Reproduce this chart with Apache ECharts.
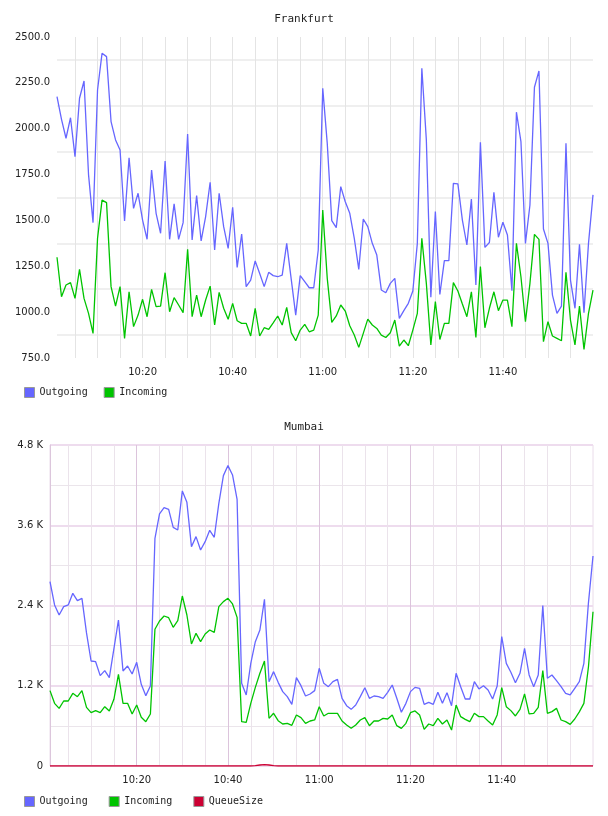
<!DOCTYPE html>
<html>
<head>
<meta charset="utf-8">
<title>Frankfurt / Mumbai</title>
<script src="https://cdn.jsdelivr.net/npm/echarts@6/dist/echarts.min.js"></script>
<style>
  html, body { margin: 0; padding: 0; background: #fff; }
  #chart { width: 608px; height: 816px; }
</style>
</head>
<body>
<div id="chart"></div>
<script>
// one sample per minute, 10:01 .. 12:00
var times = [];
for (var m = 601; m <= 720; m++) {
  var h = Math.floor(m / 60), mm = m % 60;
  times.push(h + ':' + (mm < 10 ? '0' + mm : mm));
}
var timeLabels = ['10:20', '10:40', '11:00', '11:20', '11:40'];

var frankfurtOut = [
  2175, 2051, 1948, 2060, 1848, 2166, 2260, 1750, 1488, 2211,
  2411, 2393, 2039, 1939, 1884, 1497, 1842, 1566, 1648, 1502,
  1397, 1775, 1539, 1430, 1824, 1397, 1590, 1397, 1488, 1971,
  1393, 1635, 1388, 1521, 1708, 1339, 1648, 1466, 1348, 1571,
  1244, 1426, 1139, 1175, 1279, 1211, 1139, 1217, 1199, 1193,
  1202, 1375, 1180, 984, 1199, 1166, 1133, 1133, 1339, 2220,
  1920, 1499, 1461, 1684, 1602, 1539, 1402, 1233, 1508, 1466,
  1375, 1311, 1121, 1106, 1157, 1184, 966, 1008, 1048, 1115,
  1375, 2330, 1939, 1081, 1548, 1097, 1281, 1281, 1702, 1699,
  1502, 1366, 1616, 1148, 1926, 1353, 1380, 1653, 1408, 1490,
  1421, 1117, 2090, 1930, 1375, 1584, 2226, 2315, 1453, 1375,
  1093, 993, 1033, 1920, 1175, 1021, 1370, 997, 1375, 1639
];
var frankfurtIn = [
  1299, 1084, 1148, 1161, 1075, 1233, 1075, 993, 884, 1402,
  1611, 1597, 1139, 1033, 1139, 857, 1111, 921, 984, 1070,
  975, 1124, 1030, 1033, 1215, 1002, 1079, 1039, 997, 1342,
  975, 1093, 975, 1066, 1142, 930, 1108, 1021, 961, 1048,
  953, 939, 939, 870, 1021, 870, 915, 906, 942, 979,
  930, 1026, 888, 844, 902, 933, 893, 902, 984, 1557,
  1184, 944, 979, 1039, 1006, 926, 875, 808, 884, 962,
  930, 911, 875, 862, 888, 957, 815, 848, 817, 902,
  993, 1402, 1157, 821, 1057, 851, 939, 939, 1161, 1115,
  1044, 975, 1111, 862, 1248, 915, 1021, 1111, 1008, 1066,
  1066, 921, 1375, 1193, 948, 1157, 1424, 1397, 839, 948,
  870, 857, 844, 1217, 957, 821, 1033, 797, 993, 1120
];

var mumbaiOut = [
  2757, 2408, 2258, 2383, 2408, 2582, 2473, 2507, 1990, 1570,
  1560, 1351, 1426, 1321, 1750, 2183, 1421, 1496, 1376, 1550,
  1221, 1052, 1196, 3405, 3769, 3863, 3838, 3569, 3529, 4113,
  3943, 3280, 3430, 3230, 3355, 3524, 3420, 3928, 4342, 4492,
  4352, 3988, 1236, 1062, 1535, 1859, 2034, 2493, 1261, 1411,
  1251, 1112, 1037, 922, 1321, 1201, 1047, 1077, 1127, 1461,
  1236, 1186, 1261, 1296, 1012, 902, 847, 912, 1037, 1171,
  1012, 1047, 1037, 1012, 1102, 1211, 1012, 803, 937, 1112,
  1176, 1162, 922, 952, 922, 1102, 937, 1097, 902, 1386,
  1186, 1002, 1002, 1261, 1152, 1201, 1137, 1002, 1196, 1934,
  1535, 1401, 1246, 1386, 1760, 1361, 1186, 1361, 2398, 1311,
  1361, 1276, 1186, 1087, 1062, 1162, 1261, 1535, 2440, 3141
];
var mumbaiIn = [
  1127, 937, 862, 972, 972, 1087, 1037, 1127, 877, 798,
  828, 798, 887, 823, 997, 1371, 937, 937, 778, 912,
  728, 663, 778, 2044, 2168, 2243, 2218, 2074, 2173, 2542,
  2258, 1825, 1984, 1859, 1974, 2034, 1999, 2383, 2458, 2507,
  2423, 2223, 663, 653, 937, 1176, 1386, 1570, 713, 788,
  678, 628, 638, 608, 763, 723, 638, 673, 688, 887,
  748, 788, 788, 788, 673, 613, 563, 613, 688, 723,
  603, 673, 673, 713, 703, 763, 603, 563, 638, 798,
  823, 763, 548, 628, 603, 713, 628, 688, 538, 912,
  738, 698, 663, 788, 738, 738, 673, 613, 763, 1171,
  887, 828, 748, 847, 1077, 778, 788, 877, 1426, 788,
  813, 862, 688, 663, 623, 703, 810, 937, 1480, 2307
];
var mumbaiQueue = [
  0, 0, 0, 0, 0, 0, 0, 0, 0, 0,
  0, 0, 0, 0, 0, 0, 0, 0, 0, 0,
  0, 0, 0, 0, 0, 0, 0, 0, 0, 0,
  0, 0, 0, 0, 0, 0, 0, 0, 0, 0,
  0, 0, 0, 0, 0, 5, 15, 20, 15, 5,
  0, 0, 0, 0, 0, 0, 0, 0, 0, 0,
  0, 0, 0, 0, 0, 0, 0, 0, 0, 0,
  0, 0, 0, 0, 0, 0, 0, 0, 0, 0,
  0, 0, 0, 0, 0, 0, 0, 0, 0, 0,
  0, 0, 0, 0, 0, 0, 0, 0, 0, 0,
  0, 0, 0, 0, 0, 0, 0, 0, 0, 0,
  0, 0, 0, 0, 0, 0, 0, 0, 0, 0
];

var colorOut = '#6666ff';
var colorIn = '#00c400';
var colorQueue = '#cc0033';
var labelFont = { fontFamily: 'DejaVu Sans', fontSize: 10, color: '#222' };
var monoFont = { fontFamily: 'DejaVu Sans Mono', fontSize: 10, color: '#222' };

function everyFive(i, v) {
  return i < times.length - 1 && +v.split(':')[1] % 5 === 0;
}
function isLabel(i, v) {
  return timeLabels.indexOf(v) >= 0;
}
function line(name, data, color, x, y) {
  return {
    name: name, type: 'line', xAxisIndex: x, yAxisIndex: y, data: data,
    showSymbol: false, symbol: 'none',
    lineStyle: { width: 1.3, color: color },
    itemStyle: { color: color }
  };
}

var chart = echarts.init(document.getElementById('chart'));
chart.setOption({
  animation: false,
  backgroundColor: '#fff',
  title: [
    { text: 'Frankfurt', left: 'center', top: 14, padding: 0,
      textStyle: { fontFamily: 'DejaVu Sans Mono', fontSize: 11, fontWeight: 'normal', color: '#222' } },
    { text: 'Mumbai', left: 'center', top: 422, padding: 0,
      textStyle: { fontFamily: 'DejaVu Sans Mono', fontSize: 11, fontWeight: 'normal', color: '#222' } }
  ],
  legend: [
    { data: ['Outgoing', 'Incoming'], left: 24, top: 387, padding: 0,
      icon: 'rect', itemWidth: 10, itemHeight: 10, itemGap: 16,
      itemStyle: { borderColor: '#999', borderWidth: 1 },
      textStyle: monoFont },
    { data: ['Outgoing', 'Incoming', 'QueueSize'], left: 24, top: 796, padding: 0,
      icon: 'rect', itemWidth: 10, itemHeight: 10, itemGap: 21,
      itemStyle: { borderColor: '#999', borderWidth: 1 },
      textStyle: monoFont }
  ],
  grid: [
    { left: 57, right: 15, top: 37, height: 321 },
    { left: 50, right: 15, top: 445, height: 321, show: true,
      borderColor: '#eadcea', borderWidth: 1 }
  ],
  xAxis: [
    { gridIndex: 0, type: 'category', data: times, boundaryGap: false,
      axisLine: { show: false }, axisTick: { show: false },
      axisLabel: Object.assign({ interval: isLabel, margin: 9 }, labelFont),
      splitLine: { show: true, interval: everyFive, lineStyle: { color: '#e4e4e4', width: 1 } } },
    { gridIndex: 1, type: 'category', data: times, boundaryGap: false, position: 'top',
      axisLine: { show: false }, axisTick: { show: false }, axisLabel: { show: false },
      splitLine: { show: true, interval: everyFive, lineStyle: { color: '#ebe3eb', width: 1 } } },
    { gridIndex: 1, type: 'category', data: times, boundaryGap: false, position: 'bottom',
      axisLine: { show: false }, axisTick: { show: false },
      axisLabel: Object.assign({ interval: isLabel, margin: 9 }, labelFont),
      splitLine: { show: true, interval: isLabel, lineStyle: { color: '#dcc4dc', width: 1 } } }
  ],
  yAxis: [
    { gridIndex: 0, type: 'value', min: 750, max: 2500, interval: 250,
      axisLine: { show: false }, axisTick: { show: false },
      axisLabel: Object.assign({ margin: 7, formatter: function (v) { return v.toFixed(1); } }, labelFont),
      splitLine: { show: false },
      minorTick: { show: false, splitNumber: 2 },
      minorSplitLine: { show: true, lineStyle: { color: '#efefef', width: 2 } } },
    { gridIndex: 1, type: 'value', min: 0, max: 4800, interval: 1200,
      axisLine: { show: true, lineStyle: { color: '#dcc6dc', width: 1 } }, axisTick: { show: false },
      axisLabel: Object.assign({ margin: 7, formatter: function (v) {
        return v === 0 ? '0' : (v / 1000).toFixed(1) + ' K';
      } }, labelFont),
      splitLine: { show: true, lineStyle: { color: '#eedcee', width: 2 } },
      minorTick: { show: false, splitNumber: 2 },
      minorSplitLine: { show: true, lineStyle: { color: '#ebe5eb', width: 1 } } }
  ],
  series: [
    line('Outgoing', frankfurtOut, colorOut, 0, 0),
    line('Incoming', frankfurtIn, colorIn, 0, 0),
    line('Outgoing', mumbaiOut, colorOut, 1, 1),
    line('Incoming', mumbaiIn, colorIn, 1, 1),
    line('QueueSize', mumbaiQueue, colorQueue, 1, 1)
  ]
});
</script>
</body>
</html>
